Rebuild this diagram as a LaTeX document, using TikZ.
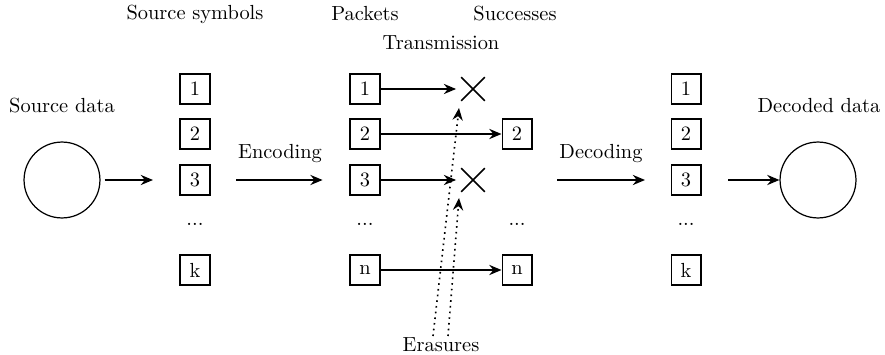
\documentclass[tikz,border=0pt]{standalone}
\usetikzlibrary{arrows.meta,shapes.misc}

\begin{document}
\begin{tikzpicture}[x=0.49pt,y=-0.49pt,
  symbox/.style={draw,semithick,minimum size=14.6pt,inner sep=0pt},
  blob/.style={draw,semithick,circle,minimum size=37.2pt,inner sep=0pt},
  lost/.style={draw,thick,cross out,minimum size=10.8pt,inner sep=0pt},
  arr/.style={thick,-{Stealth[length=6pt,width=5pt,inset=2pt]}},
  erase/.style={thick,dotted,-{Stealth[length=6pt,width=5pt,inset=2pt]}},
  lbl/.style={inner sep=0pt}]
\useasboundingbox (0,0) rectangle (885,355);

% column headings
\node[lbl] (hsrc) at (195,14) {Source symbols};
\node[lbl] (hpkt) at (365,14) {Packets};
\node[lbl] (hok)  at (515,14) {Successes};
\node[lbl] (htx)  at (441,43) {Transmission};

% source and sink
\node[lbl] (lsrc) at (62,106) {Source data};
\node[blob] (src) at (62,180) {};
\node[lbl] (ldec) at (819,106) {Decoded data};
\node[blob] (dec) at (818,180) {};

% source symbols
\node[symbox] (s1) at (195,89) {1};
\node[symbox] (s2) at (195,134) {2};
\node[symbox] (s3) at (195,180) {3};
\node[lbl]    (sd) at (195,224) {...};
\node[symbox] (sk) at (195,270) {k};

% encoded packets
\node[symbox] (p1) at (365,89) {1};
\node[symbox] (p2) at (365,134) {2};
\node[symbox] (p3) at (365,180) {3};
\node[lbl]    (pd) at (365,224) {...};
\node[symbox] (pn) at (365,270) {n};

% channel outcome
\node[lost]   (x1) at (473,89) {};
\node[symbox] (o2) at (517,134) {2};
\node[lost]   (x3) at (473,180) {};
\node[lbl]    (od) at (517,224) {...};
\node[symbox] (on) at (517,270) {n};

% decoded symbols
\node[symbox] (r1) at (686,89) {1};
\node[symbox] (r2) at (686,134) {2};
\node[symbox] (r3) at (686,180) {3};
\node[lbl]    (rd) at (686,224) {...};
\node[symbox] (rk) at (686,270) {k};

% flow between stages
\draw[arr, shorten <=2pt, shorten >=13pt] (src) -- (s3);
\draw[arr, shorten <=12.7pt, shorten >=13.2pt] (s3) -- node[lbl, above=8pt] {Encoding} (p3);
\coordinate (da) at (557,180);
\coordinate (db) at (645,180);
\draw[arr] (da) -- node[lbl, above=8pt] {Decoding} (db);
\draw[arr, shorten <=13.2pt] (r3) -- (dec);

% transmission
\draw[arr, shorten >=2.5pt] (p1) -- (x1);
\draw[arr] (p2) -- (o2);
\draw[arr, shorten >=2.5pt] (p3) -- (x3);
\draw[arr] (pn) -- (on);

% erasures
\node[lbl] (er) at (441,345) {Erasures};
\coordinate (e1) at (433,336);
\coordinate (e2) at (448,336);
\coordinate (t1) at (459,108);
\coordinate (t3) at (459,198);
\draw[erase] (e1) -- (t1);
\draw[erase] (e2) -- (t3);
\end{tikzpicture}
\end{document}
